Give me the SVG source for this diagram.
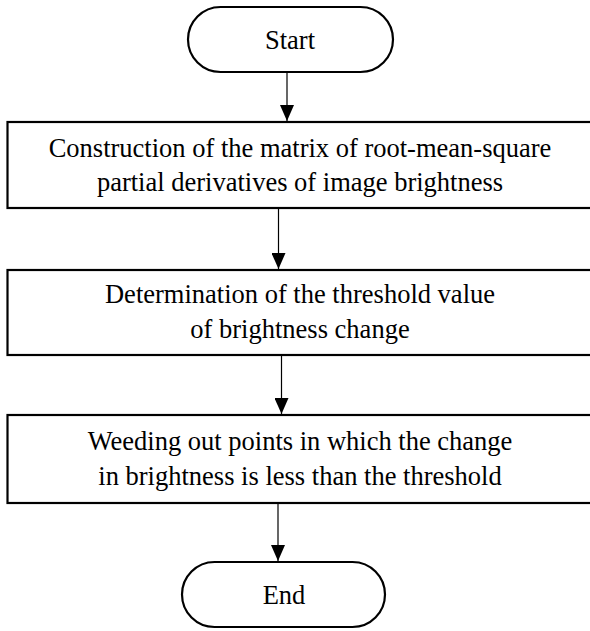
<svg xmlns="http://www.w3.org/2000/svg" width="590" height="631" viewBox="0 0 590 631">
<defs>
<style>
.box{fill:#fff;stroke:#000;stroke-width:2.2}
.t{font-family:"Liberation Serif","Times New Roman",serif;font-size:26.5px;fill:#000;text-anchor:middle}
.c{stroke:#000;stroke-width:1.2;fill:none}
</style>
<marker id="arr" markerWidth="16" markerHeight="14" refX="16" refY="7" orient="auto" markerUnits="userSpaceOnUse" viewBox="0 0 16 14">
<path d="M0,0 L16,7 L0,14 Z" fill="#000"/>
</marker>
</defs>
<rect width="590" height="631" fill="#fff"/>
<g id="connectors">
<line class="c" x1="287" y1="71" x2="287" y2="121" marker-end="url(#arr)"/>
<line class="c" x1="278.5" y1="208" x2="278.5" y2="269" marker-end="url(#arr)"/>
<line class="c" x1="281.5" y1="355" x2="281.5" y2="414" marker-end="url(#arr)"/>
<line class="c" x1="278" y1="503" x2="278" y2="561" marker-end="url(#arr)"/>
</g>
<g id="start">
<rect class="box" x="188" y="7" width="205" height="65" rx="32.5"/>
<text class="t" x="290" y="49">Start</text>
</g>
<g id="step1">
<rect class="box" x="7.5" y="122" width="586" height="86"/>
<text class="t" x="300" y="157">Construction of the matrix of root-mean-square</text>
<text class="t" x="300" y="191">partial derivatives of image brightness</text>
</g>
<g id="step2">
<rect class="box" x="7.5" y="270" width="586" height="85"/>
<text class="t" x="300" y="303">Determination of the threshold value</text>
<text class="t" x="300" y="338">of brightness change</text>
</g>
<g id="step3">
<rect class="box" x="7.5" y="415" width="586" height="88"/>
<text class="t" x="300" y="450">Weeding out points in which the change</text>
<text class="t" x="300" y="485">in brightness is less than the threshold</text>
</g>
<g id="end">
<rect class="box" x="182" y="562" width="203" height="65" rx="32.5"/>
<text class="t" x="284" y="604">End</text>
</g>
</svg>
